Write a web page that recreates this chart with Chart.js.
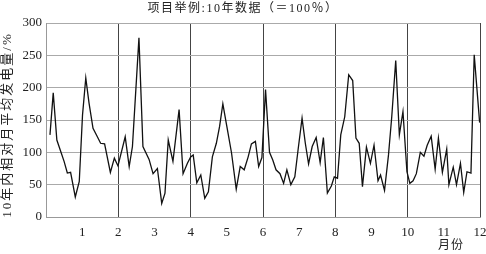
<!DOCTYPE html>
<html lang="zh">
<head>
    <meta charset="UTF-8">
    <script src="https://cdn.jsdelivr.net/npm/chart.js"></script>
    <title>10年数据</title>
    <style>
        body { margin: 0; background: #fff; }
        #wrap { width: 486px; height: 254px; }
    </style>
</head>
<body>
    <div id="wrap">
        <canvas id="myChart"></canvas>
    </div>
    <script>
        // month position (0-12) and relative output (%)
        const months = [0.11, 0.20, 0.30, 0.41, 0.50, 0.59, 0.68, 0.81, 0.92, 1.01,
            1.10, 1.19, 1.30, 1.42, 1.51, 1.62, 1.78, 1.89, 1.99, 2.19,
            2.30, 2.39, 2.57, 2.68, 2.85, 2.96, 3.08, 3.20, 3.29, 3.38,
            3.51, 3.68, 3.79, 3.91, 4.00, 4.07, 4.17, 4.28, 4.39, 4.49,
            4.60, 4.71, 4.80, 4.89, 5.00, 5.13, 5.26, 5.37, 5.48, 5.59,
            5.68, 5.79, 5.88, 5.97, 6.07, 6.18, 6.27, 6.36, 6.47, 6.57,
            6.66, 6.77, 6.88, 6.97, 7.08, 7.17, 7.26, 7.36, 7.47, 7.58,
            7.67, 7.78, 7.89, 7.97, 8.06, 8.15, 8.26, 8.37, 8.48, 8.57,
            8.66, 8.75, 8.86, 8.97, 9.07, 9.18, 9.25, 9.36, 9.47, 9.56,
            9.67, 9.77, 9.87, 9.98, 10.06, 10.15, 10.24, 10.35, 10.45, 10.54,
            10.65, 10.76, 10.85, 10.96, 11.08, 11.14, 11.26, 11.35, 11.46, 11.55,
            11.64, 11.75, 11.84, 11.99];
        const values = [127, 192, 119, 101, 86, 68, 69, 31, 55, 158,
            215, 176, 137, 124, 114, 113, 69, 91, 79, 124,
            78, 109, 277, 109, 89, 67, 75, 21, 37, 119,
            86, 166, 67, 83, 93, 96, 53, 65, 29, 39,
            93, 114, 140, 175, 140, 99, 43, 78, 73, 93,
            113, 117, 78, 92, 197, 100, 88, 73, 67, 52,
            73, 50, 62, 104, 153, 114, 82, 109, 123, 84,
            123, 37, 48, 62, 60, 127, 155, 220, 211, 122,
            114, 47, 108, 83, 111, 56, 65, 41, 96, 155,
            242, 127, 163, 70, 52, 56, 67, 100, 94, 111,
            125, 74, 122, 69, 105, 50, 77, 50, 83, 38,
            70, 68, 251, 146];
        const monthLabels = ['1', '2', '3', '4', '5', '6', '7', '8', '9', '10', '11', '12'];

        const chartTitle = '项目举例:10年数据（＝100％）';
        const yTitle = '10年内相对月平均发电量/%';
        const xTitle = '月份';
        const fontFamily = "'Liberation Serif', 'Noto Sans CJK SC', serif";

        // the reference sets its titles with wide letter spacing, so draw them here
        const titlesPlugin = {
            id: 'titles',
            afterDraw(chart) {
                const ctx = chart.ctx;
                const area = chart.chartArea;
                ctx.save();
                ctx.fillStyle = '#222';
                ctx.textAlign = 'center';
                ctx.textBaseline = 'middle';

                ctx.font = '12px ' + fontFamily;
                ctx.letterSpacing = '1.5px';
                ctx.fillText(chartTitle, chart.width / 2, 9);

                ctx.letterSpacing = '1px';
                ctx.fillText(xTitle, chart.scales.x.getPixelForValue(11.2), 246);

                ctx.font = '13px ' + fontFamily;
                ctx.letterSpacing = '2px';
                ctx.translate(8, (area.top + area.bottom) / 2 + 5);
                ctx.rotate(-Math.PI / 2);
                ctx.fillText(yTitle, 0, 0);
                ctx.restore();
            }
        };

        new Chart(document.getElementById('myChart'), {
            type: 'line',
            data: {
                datasets: [{
                    data: months.map((m, i) => ({ x: m, y: values[i] })),
                    borderColor: '#111',
                    borderWidth: 1.3,
                    pointRadius: 0,
                    tension: 0,
                    fill: false
                }]
            },
            options: {
                responsive: true,
                maintainAspectRatio: false,
                animation: false,
                devicePixelRatio: 1,
                layout: { padding: { top: 23, right: 6, bottom: 0, left: 0 } },
                plugins: {
                    legend: { display: false },
                    tooltip: { enabled: false },
                    title: { display: false }
                },
                scales: {
                    x: {
                        type: 'linear',
                        min: 0,
                        max: 12,
                        afterFit: (s) => { s.height = 37; s.paddingRight = 0; },
                        border: { color: '#999', width: 1 },
                        grid: {
                            drawTicks: false,
                            lineWidth: 1,
                            color: (c) => (c.tick && c.tick.value > 0 && c.tick.value % 2 === 0) ? '#444' : 'rgba(0,0,0,0)'
                        },
                        ticks: {
                            stepSize: 1,
                            autoSkip: false,
                            maxRotation: 0,
                            padding: 8,
                            color: '#222',
                            font: { size: 13, family: fontFamily },
                            callback: (v) => v >= 1 ? monthLabels[v - 1] : ''
                        }
                    },
                    y: {
                        min: 0,
                        max: 300,
                        afterFit: (s) => { s.width = 46; },
                        border: { color: '#999', width: 1 },
                        grid: { drawTicks: false, color: '#aaa', lineWidth: 1 },
                        ticks: {
                            stepSize: 50,
                            padding: 4,
                            color: '#222',
                            font: { size: 13, family: fontFamily }
                        }
                    }
                }
            },
            plugins: [titlesPlugin]
        });
    </script>
</body>
</html>
